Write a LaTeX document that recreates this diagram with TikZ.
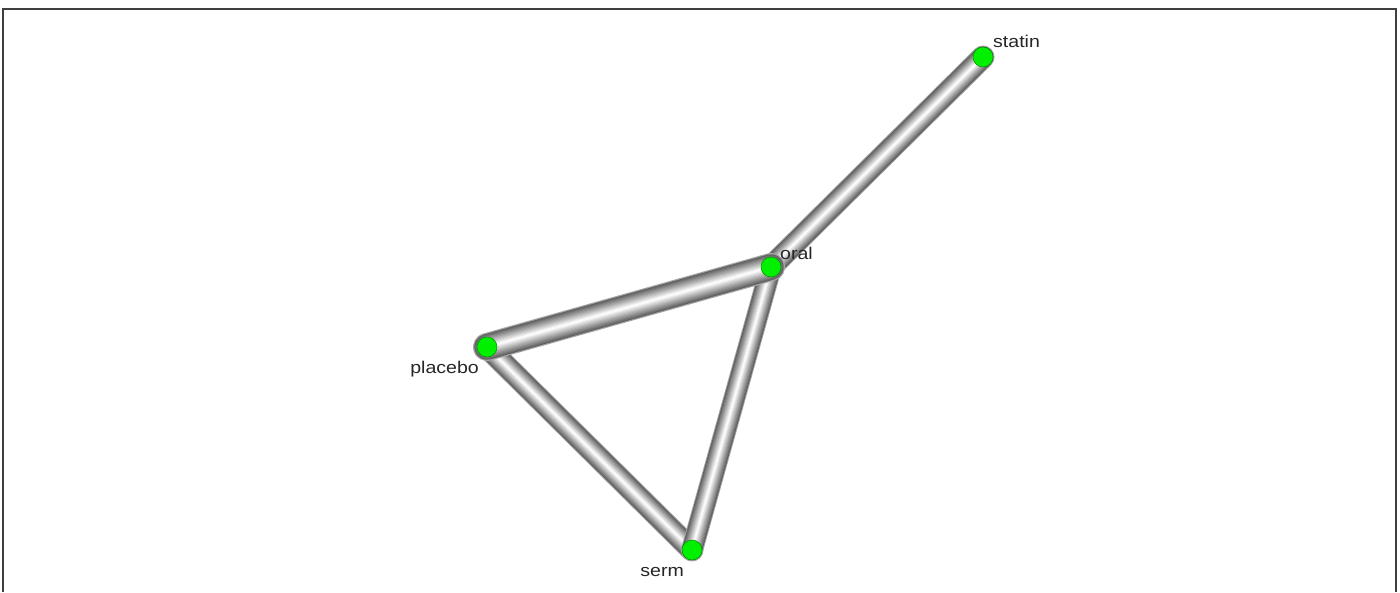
\documentclass[tikz,border=0pt]{standalone}
\usepackage{fontspec}
\setmainfont[FakeStretch=1.15]{Liberation Sans}
\usetikzlibrary{backgrounds}

% shaded tube between two named nodes: from, to, width (pt)
\newcommand{\tube}[3]{%
  \foreach \k in {0,...,11}{
    \pgfmathsetmacro{\tw}{#3*(1-\k/12)}
    \pgfmathtruncatemacro{\tc}{\k==0 ? 35 : 68-6*\k}
    \draw[line width=\tw pt,black!\tc,line cap=round] (#1.center) -- (#2.center);
  }}

\begin{document}
\begin{tikzpicture}[
  x=1pt,y=-1pt,
  drug/.style={circle,fill={rgb,255:red,0;green,240;blue,0},draw=green!55!black,line width=0.5pt,minimum size=20pt,inner sep=0pt},
  lbl/.style={font=\fontsize{17}{20}\selectfont,text=black!85,inner sep=0pt},
  frame/.style={draw=black!75,line width=1.5pt}
]
\useasboundingbox (0,0) rectangle (1400,592);
\draw[frame] (3,592) -- (3,9) -- (1396,9) -- (1396,592);

\node[drug] (statin) at (983,57) {};
\node[drug] (oral) at (771,267) {};
\node[drug] (placebo) at (487,347) {};
\node[drug] (serm) at (692,550) {};

\node[lbl,anchor=west] (statinlbl) at (993,41) {statin};
\node[lbl,anchor=west] (orallbl) at (780,253) {oral};
\node[lbl,anchor=east] (placebolbl) at (479,369) {placebo};
\node[lbl,anchor=east] (sermlbl) at (684,572) {serm};

\begin{pgfonlayer}{background}
\tube{placebo}{serm}{23}
\tube{oral}{serm}{22}
\tube{statin}{oral}{23}
\tube{placebo}{oral}{28}
\end{pgfonlayer}
\end{tikzpicture}
\end{document}
